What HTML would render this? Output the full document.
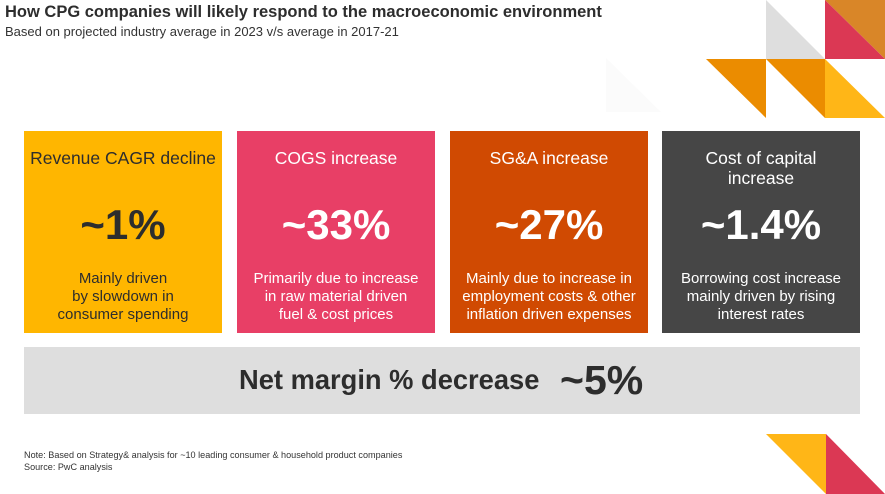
<!DOCTYPE html>
<html><head><meta charset="utf-8"><style>
body{margin:0;width:885px;height:494px;background:#fff;font-family:"Liberation Sans",Arial,sans-serif;position:relative;overflow:hidden}
.t{position:absolute;left:5px;top:3px;font-size:16.5px;font-weight:bold;color:#2d2d2d}
.s{position:absolute;left:5px;top:24px;font-size:13px;color:#333}
.box{position:absolute;top:131px;width:198px;height:202px;color:#fff;text-align:center}
.box .h{position:absolute;top:17px;left:0;right:0;font-size:17.5px;line-height:20px}
.box .v{position:absolute;top:70px;left:0;right:0;font-size:42px;font-weight:bold}
.box .d{position:absolute;top:139px;left:0;right:0;font-size:15px;line-height:18px}
.net{position:absolute;left:24px;top:347px;width:836px;height:67px;background:#dedede;color:#2d2d2d}
.note{position:absolute;left:24px;font-size:9.1px;color:#333}
</style></head><body>
<div class="t">How CPG companies will likely respond to the macroeconomic environment</div>
<div class="s">Based on projected industry average in 2023 v/s average in 2017-21</div>
<svg style="position:absolute;left:0;top:0" width="885" height="494">
<polygon points="606,58 606,112 661,112" fill="#fbfbfb"/>
<polygon points="766,0 766,59 825,59" fill="#dedede"/>
<polygon points="825,0 885,0 885,59" fill="#d98628"/>
<polygon points="825,0 825,59 885,59" fill="#db3854"/>
<polygon points="706,59 766,59 766,118" fill="#eb8c00"/>
<polygon points="766,59 825,59 825,118" fill="#eb8c00"/>
<polygon points="825,59 825,118 885,118" fill="#ffb617"/>
<polygon points="766,434 826,434 826,494" fill="#ffb617"/>
<polygon points="826,434 826,494 885,494" fill="#db3854"/>
</svg>
<div class="box" style="left:24px;background:#ffb600;color:#2d2d2d"><div class="h">Revenue CAGR decline</div><div class="v">~1%</div><div class="d">Mainly driven<br>by slowdown in<br>consumer spending</div></div>
<div class="box" style="left:237px;background:#e83f66"><div class="h">COGS increase</div><div class="v">~33%</div><div class="d">Primarily due to increase<br>in raw material driven<br>fuel &amp; cost prices</div></div>
<div class="box" style="left:450px;background:#d04a02"><div class="h">SG&amp;A increase</div><div class="v">~27%</div><div class="d">Mainly due to increase in<br>employment costs &amp; other<br>inflation driven expenses</div></div>
<div class="box" style="left:662px;background:#464646"><div class="h">Cost of capital<br>increase</div><div class="v">~1.4%</div><div class="d">Borrowing cost increase<br>mainly driven by rising<br>interest rates</div></div>
<div class="net">
<span style="position:absolute;left:215px;top:17px;font-size:27.3px;font-weight:bold">Net margin % decrease</span>
<span style="position:absolute;left:536px;top:10px;font-size:41px;font-weight:bold">~5%</span></div>
<div class="note" style="top:450px">Note: Based on Strategy&amp; analysis for ~10 leading consumer &amp; household product companies</div>
<div class="note" style="top:462px">Source: PwC analysis</div>
</body></html>
